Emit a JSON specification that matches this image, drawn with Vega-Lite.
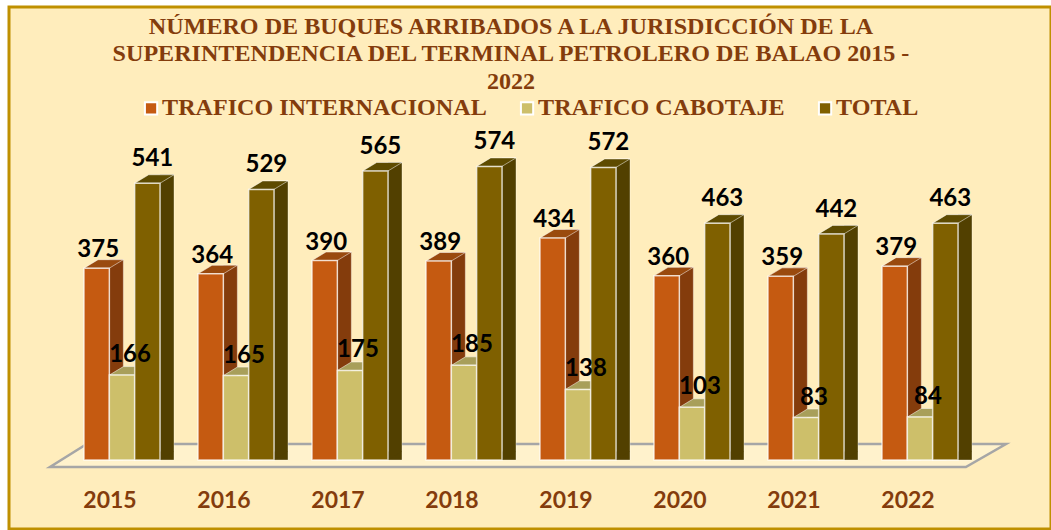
{"$schema":"https://vega.github.io/schema/vega-lite/v6.json","autosize":{"type":"none"},"padding":{"left":9,"top":7,"right":0,"bottom":1},"width":1042,"height":522,"background":"#FFFFFF","view":{"fill":"#FFEDBC","stroke":"#BF9000","strokeWidth":3},"title":{"text":["NÚMERO DE BUQUES ARRIBADOS A LA JURISDICCIÓN DE LA","SUPERINTENDENCIA DEL TERMINAL PETROLERO DE BALAO 2015 -","2022"],"orient":"top","anchor":"middle","baseline":"top","offset":-87,"dx":-19,"font":"Liberation Serif","fontWeight":"bold","fontSize":24.1,"lineHeight":27.5,"color":"#843C0C"},"data":{"values":[{"year":"2015","series":"TRAFICO INTERNACIONAL","value":375},{"year":"2015","series":"TRAFICO CABOTAJE","value":166},{"year":"2015","series":"TOTAL","value":541},{"year":"2016","series":"TRAFICO INTERNACIONAL","value":364},{"year":"2016","series":"TRAFICO CABOTAJE","value":165},{"year":"2016","series":"TOTAL","value":529},{"year":"2017","series":"TRAFICO INTERNACIONAL","value":390},{"year":"2017","series":"TRAFICO CABOTAJE","value":175},{"year":"2017","series":"TOTAL","value":565},{"year":"2018","series":"TRAFICO INTERNACIONAL","value":389},{"year":"2018","series":"TRAFICO CABOTAJE","value":185},{"year":"2018","series":"TOTAL","value":574},{"year":"2019","series":"TRAFICO INTERNACIONAL","value":434},{"year":"2019","series":"TRAFICO CABOTAJE","value":138},{"year":"2019","series":"TOTAL","value":572},{"year":"2020","series":"TRAFICO INTERNACIONAL","value":360},{"year":"2020","series":"TRAFICO CABOTAJE","value":103},{"year":"2020","series":"TOTAL","value":463},{"year":"2021","series":"TRAFICO INTERNACIONAL","value":359},{"year":"2021","series":"TRAFICO CABOTAJE","value":83},{"year":"2021","series":"TOTAL","value":442},{"year":"2022","series":"TRAFICO INTERNACIONAL","value":379},{"year":"2022","series":"TRAFICO CABOTAJE","value":84},{"year":"2022","series":"TOTAL","value":463}]},"encoding":{"x":{"field":"year","type":"nominal","scale":{"domain":["2015","2016","2017","2018","2019","2020","2021","2022"],"range":[75,949],"paddingInner":0.3333,"paddingOuter":0},"axis":{"title":null,"orient":"bottom","domain":false,"ticks":false,"grid":false,"labelAngle":0,"labelPadding":-40,"labelOffset":-12,"labelFont":"Lato","labelFontWeight":"bold","labelFontSize":23,"labelColor":"#843C0C"}},"y":{"field":"value","type":"quantitative","stack":null,"scale":{"domain":[-134.9,885.6],"nice":false,"zero":false},"axis":null}},"layer":[{"transform":[{"filter":"datum.year=='2018' && datum.series=='TRAFICO CABOTAJE'"}],"mark":{"type":"point","filled":true,"fill":"#FFF2CC","stroke":"#A6A6A6","strokeWidth":2.5,"opacity":1,"shape":"M-1,0.024L0.916,0.024L1,-0.024L-0.923,-0.024Z","size":913936,"xOffset":64,"yOffset":-4.5},"encoding":{"y":{"datum":0}}},{"mark":{"type":"bar","width":14,"yOffset":-8.5,"y2Offset":-8.5,"stroke":"#FFFFFF","strokeOpacity":0.35},"encoding":{"xOffset":{"field":"series","type":"nominal","scale":{"domain":["TRAFICO INTERNACIONAL","TRAFICO CABOTAJE","TOTAL"],"range":[19.67,95.67]}},"color":{"field":"series","type":"nominal","legend":null,"scale":{"domain":["TRAFICO INTERNACIONAL","TRAFICO CABOTAJE","TOTAL"],"range":["#843C0C","#A59A50","#524000"]}}}},{"mark":{"type":"point","filled":true,"opacity":1,"shape":"M-1,0.607L1,-0.607L-1,-0.607Z","size":196,"yOffset":-4.25},"encoding":{"xOffset":{"field":"series","type":"nominal","scale":{"domain":["TRAFICO INTERNACIONAL","TRAFICO CABOTAJE","TOTAL"],"range":[19.67,95.67]}},"y":{"datum":0},"color":{"field":"series","type":"nominal","legend":null,"scale":{"domain":["TRAFICO INTERNACIONAL","TRAFICO CABOTAJE","TOTAL"],"range":["#843C0C","#A59A50","#524000"]}}}},{"mark":{"type":"point","filled":true,"opacity":1,"stroke":"#FFFFFF","strokeOpacity":0.5,"strokeWidth":1,"shape":"M-1,0.216L0.2875,0.216L1,-0.216L-0.2875,-0.216Z","size":1544,"yOffset":-4.25},"encoding":{"xOffset":{"field":"series","type":"nominal","scale":{"domain":["TRAFICO INTERNACIONAL","TRAFICO CABOTAJE","TOTAL"],"range":[7,83]}},"color":{"field":"series","type":"nominal","legend":null,"scale":{"domain":["TRAFICO INTERNACIONAL","TRAFICO CABOTAJE","TOTAL"],"range":["#9A4A0E","#A89F5A","#5E4B00"]}}}},{"mark":{"type":"bar","stroke":"#FFFFFF","strokeOpacity":0.7,"strokeWidth":1.5},"encoding":{"xOffset":{"field":"series","type":"nominal","scale":{"domain":["TRAFICO INTERNACIONAL","TRAFICO CABOTAJE","TOTAL"]}},"color":{"field":"series","type":"nominal","title":null,"scale":{"domain":["TRAFICO INTERNACIONAL","TRAFICO CABOTAJE","TOTAL"],"range":["#C55A11","#CDBF6A","#7F6000"]},"legend":{"orient":"none","legendX":130,"legendY":89,"direction":"horizontal","columns":3,"symbolType":"square","symbolSize":150,"symbolStrokeColor":"#FFFFFF","symbolStrokeWidth":2,"symbolOpacity":1,"labelFont":"Liberation Serif","labelFontWeight":"bold","labelFontSize":24.1,"labelColor":"#843C0C","labelLimit":400,"labelOffset":-1,"columnPadding":28,"padding":0}}}},{"transform":[{"filter":"datum.series=='TRAFICO INTERNACIONAL'"}],"mark":{"type":"text","font":"Lato","fontWeight":"bold","fontSize":24,"color":"#000000","baseline":"middle","yOffset":-18},"encoding":{"xOffset":{"field":"series","type":"nominal","scale":{"domain":["TRAFICO INTERNACIONAL","TRAFICO CABOTAJE","TOTAL"],"range":[1.5,77.5]}},"text":{"field":"value","type":"quantitative"}}},{"transform":[{"filter":"datum.series=='TRAFICO CABOTAJE'"}],"mark":{"type":"text","font":"Lato","fontWeight":"bold","fontSize":24,"color":"#000000","baseline":"middle","yOffset":-20},"encoding":{"xOffset":{"field":"series","type":"nominal","scale":{"domain":["TRAFICO INTERNACIONAL","TRAFICO CABOTAJE","TOTAL"],"range":[8,84]}},"text":{"field":"value","type":"quantitative"}}},{"transform":[{"filter":"datum.series=='TOTAL'"}],"mark":{"type":"text","font":"Lato","fontWeight":"bold","fontSize":24,"color":"#000000","baseline":"middle","yOffset":-24},"encoding":{"xOffset":{"field":"series","type":"nominal","scale":{"domain":["TRAFICO INTERNACIONAL","TRAFICO CABOTAJE","TOTAL"],"range":[5,81]}},"text":{"field":"value","type":"quantitative"}}}],"resolve":{"scale":{"color":"independent","xOffset":"independent"}},"config":{"axis":{"labelFlush":false}}}
